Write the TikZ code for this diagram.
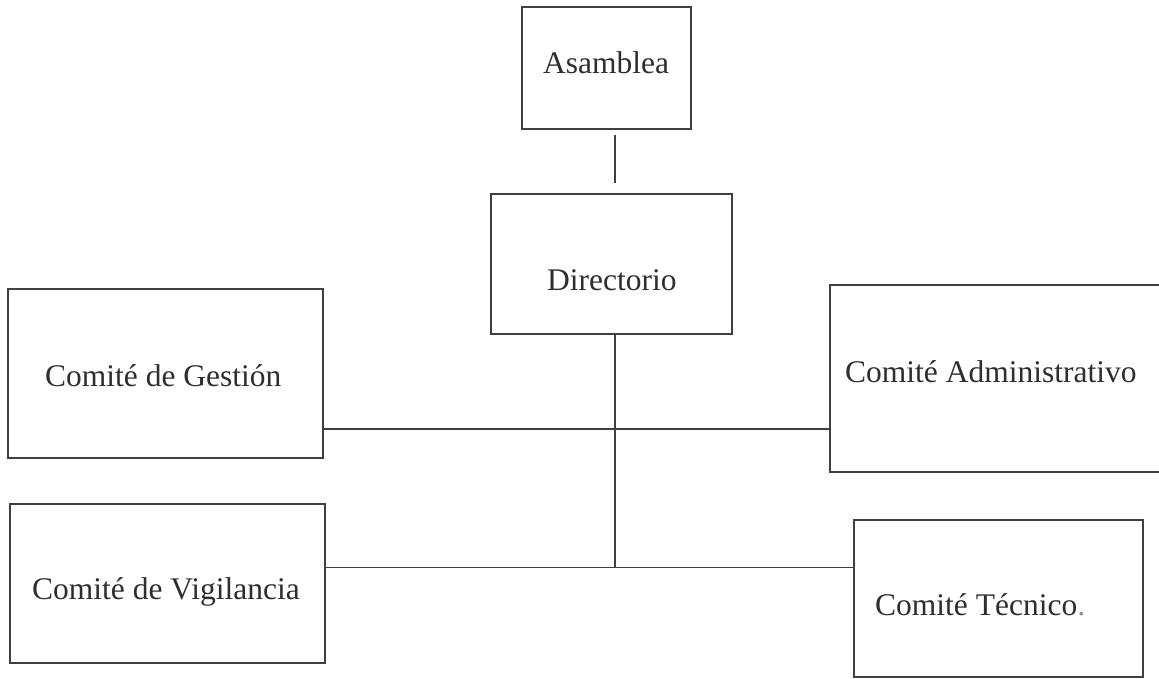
\documentclass[tikz,border=0pt]{standalone}
\usepackage{fontspec}
\setmainfont{Liberation Serif}
\begin{document}
\begin{tikzpicture}[x=1pt,y=-1pt,
  box/.style={draw=black!75, line width=1.1pt, rectangle, inner sep=0pt},
  lbl/.style={anchor=base west, inner sep=0pt, text=black!82, font=\fontsize{31.5}{36}\selectfont},
  conn/.style={draw=black!75, line width=1.1pt}]
\useasboundingbox (0,0) rectangle (1159,678);
% boxes
\node[box, minimum width=169pt, minimum height=122pt] (asam) at (606.5,68) {};
\node[box, minimum width=241pt, minimum height=140pt] (dir) at (611.5,264) {};
\node[box, minimum width=315pt, minimum height=169pt] (gest) at (165.5,373.5) {};
\node[box, minimum width=335pt, minimum height=187pt] (adm) at (997.5,378.5) {};
\node[box, minimum width=315pt, minimum height=159pt] (vig) at (167.5,583.5) {};
\node[box, minimum width=289pt, minimum height=157pt] (tec) at (998.5,598.5) {};
% labels
\node[lbl] (tasam) at (543,73) {Asamblea};
\node[lbl] (tdir) at (547,290) {Directorio};
\node[lbl] (tgest) at (45,386) {Comité de Gestión};
\node[lbl] (tadm) at (845,382) {Comité Administrativo};
\node[lbl] (tvig) at (32,599) {Comité de Vigilancia};
\node[lbl] (ttec) at (875,615) {Comité Técnico\textcolor{black!45}{.}};
% connectors
\coordinate (c1) at (615,135);
\coordinate (c2) at (615,183);
\coordinate (jm) at (615,429);
\coordinate (jb) at (615,567.5);
\draw[conn] (c1) -- (c2);
\draw[conn] (dir.south -| jb) -- (jb);
\draw[conn] (gest.east |- jm) -- (adm.west |- jm);
\draw[conn] (vig.east |- jb) -- (tec.west |- jb);
\end{tikzpicture}
\end{document}
